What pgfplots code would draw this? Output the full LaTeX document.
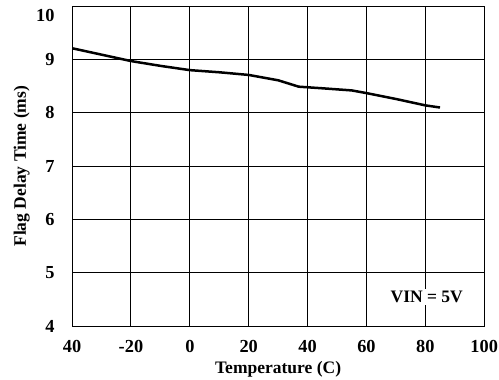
\documentclass[border=0pt]{standalone}
\usepackage{pgfplots}
\pgfplotsset{compat=1.18}
\usepackage{fontspec}
\setmainfont{Liberation Serif}
\begin{document}
\begin{tikzpicture}
\begin{axis}[
  name=ax,
  scale only axis,
  width=247pt, height=192pt,
  xmin=-40, xmax=100, ymin=4, ymax=10,
  xtick={-40,-20,0,20,40,60,80,100},
  xticklabels={40,-20,0,20,40,60,80,100},
  ytick={4,5,6,7,8,9,10},
  yticklabels={4,5,6,7,8,9,\smash{\raisebox{-9.5pt}{10}}},
  grid=major,
  major grid style={black, line width=0.6pt},
  axis line style={black, line width=0.6pt},
  major tick length=0pt,
  tick label style={font=\fontsize{11}{13}\selectfont\bfseries},
  /pgf/number format/assume math mode=true,
  xticklabel style={yshift=-5pt},
  yticklabel style={xshift=-7pt},
  xlabel={Temperature (C)},
  ylabel={Flag Delay Time (ms)},
  label style={font=\fontsize{10.5}{12}\selectfont\bfseries},
  xlabel style={yshift=2pt},
  ylabel style={yshift=-3pt},
]
\addplot[black, line width=1.5pt] coordinates {
(-40,9.21) (-30,9.09) (-20,8.97) (-10,8.88) (0,8.80) (10,8.76) (20,8.71)
(30,8.61) (37,8.49) (45,8.46) (55,8.42) (60,8.37) (70,8.26) (80,8.14) (85,8.10)
};
\node[fill=white, inner sep=1.5pt, font=\fontsize{10.5}{12}\selectfont\bfseries] at (axis cs:80.5,4.55) {VIN = 5V};
\coordinate (bl) at (rel axis cs:-0.175,-0.166);
\coordinate (tr) at (rel axis cs:1.036,1.019);
\end{axis}
\pgfresetboundingbox
\path (bl) rectangle (tr);
\end{tikzpicture}
\end{document}
